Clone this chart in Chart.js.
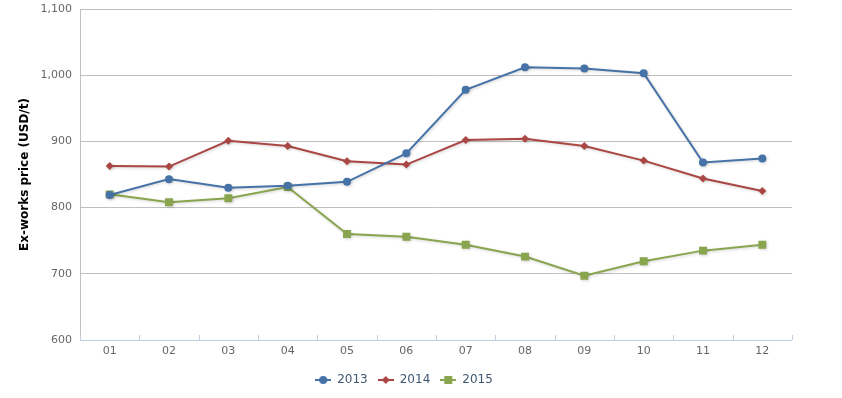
<!DOCTYPE html>
<html>
<head>
<meta charset="utf-8">
<script src="https://cdn.jsdelivr.net/npm/chart.js@4.4.0/dist/chart.umd.min.js"></script>
<style>
  html, body { margin: 0; padding: 0; background: #fff; }
  #wrap { width: 842px; height: 398px; }
</style>
</head>
<body>
<div id="wrap"><canvas id="priceChart" width="842" height="398"></canvas></div>
<script>
// Data
const months = ['01', '02', '03', '04', '05', '06', '07', '08', '09', '10', '11', '12'];
const prices2013 = [819, 843, 830, 833, 839, 882, 978, 1012, 1010, 1003, 868, 874];
const prices2014 = [863, 862, 901, 893, 870, 865, 902, 904, 893, 871, 844, 825];
const prices2015 = [820, 808, 814, 831, 760, 756, 744, 726, 697, 719, 735, 744];
const yTicks = [600, 700, 800, 900, 1000, 1100];

const seriesNames = ['2013', '2014', '2015'];
const seriesColors = ['#4572A7', '#AA4643', '#89A54E'];
const seriesMarkers = ['circle', 'rectRot', 'rect'];
const markerSizes = [4, 4, 5.6];

const baseFont = '"DejaVu Sans", Verdana, sans-serif';

// Legend symbol: short line with the marker in the middle
function makeLegendIcon(color, marker) {
    const c = document.createElement('canvas');
    c.width = 16;
    c.height = 10;
    const g = c.getContext('2d');
    g.strokeStyle = color;
    g.fillStyle = color;
    g.lineWidth = 2;
    g.beginPath();
    g.moveTo(0, 5);
    g.lineTo(16, 5);
    g.stroke();
    g.beginPath();
    if (marker === 'circle') {
        g.arc(8, 5, 4, 0, Math.PI * 2);
    } else if (marker === 'rectRot') {
        g.moveTo(8, 1); g.lineTo(12, 5); g.lineTo(8, 9); g.lineTo(4, 5); g.closePath();
    } else {
        g.rect(4, 1, 8, 8);
    }
    g.fill();
    return c;
}

// Soft shadow under the lines, like the original
const lineShadow = {
    id: 'lineShadow',
    beforeDatasetDraw(chart) {
        const ctx = chart.ctx;
        ctx.save();
        ctx.shadowColor = 'rgba(0, 0, 0, 0.18)';
        ctx.shadowBlur = 3;
        ctx.shadowOffsetX = 1;
        ctx.shadowOffsetY = 1;
    },
    afterDatasetDraw(chart) {
        chart.ctx.restore();
    }
};

// Category separators on the x axis, pointing up into the plot
const xTickMarks = {
    id: 'xTickMarks',
    afterDraw(chart) {
        const x = chart.scales.x;
        const ctx = chart.ctx;
        const half = (x.getPixelForValue(1) - x.getPixelForValue(0)) / 2;
        ctx.save();
        ctx.strokeStyle = '#C0D0E0';
        ctx.lineWidth = 1;
        ctx.beginPath();
        for (let i = 0; i <= months.length; i++) {
            const px = Math.round(x.getPixelForValue(i) - half) + 0.5;
            ctx.moveTo(px, x.top - 5);
            ctx.lineTo(px, x.top);
        }
        ctx.moveTo(x.left, x.top + 0.5);
        ctx.lineTo(x.right, x.top + 0.5);
        ctx.stroke();
        ctx.restore();
    }
};

const allSeries = [prices2013, prices2014, prices2015];
const datasets = allSeries.map((values, i) => ({
    label: seriesNames[i],
    data: values,
    borderColor: seriesColors[i],
    backgroundColor: seriesColors[i],
    borderWidth: 2,
    pointStyle: seriesMarkers[i],
    pointRadius: markerSizes[i],
    pointBorderWidth: 0,
    tension: 0,
    fill: false
}));

const legendIcons = seriesNames.map((n, i) => makeLegendIcon(seriesColors[i], seriesMarkers[i]));

new Chart(document.getElementById('priceChart').getContext('2d'), {
    type: 'line',
    data: {
        labels: months,
        datasets: datasets
    },
    options: {
        responsive: false,
        animation: false,
        layout: {
            padding: { left: 0, right: 34, top: 9, bottom: 2 }
        },
        scales: {
            x: {
                offset: true,
                grid: { display: false, drawTicks: false },
                border: { display: false },
                ticks: {
                    color: '#666',
                    font: { family: baseFont, size: 11 },
                    padding: 5,
                    maxRotation: 0
                },
                afterFit(scale) { scale.height = 24; }
            },
            y: {
                min: 600,
                max: 1100,
                afterBuildTicks(scale) {
                    scale.ticks = yTicks.map(v => ({ value: v }));
                },
                grid: { color: '#C0C0C0', drawTicks: false },
                border: { display: true, color: '#C0C0C0' },
                ticks: {
                    color: '#666',
                    font: { family: baseFont, size: 11 },
                    padding: 8,
                    callback: v => v.toLocaleString('en-US')
                },
                title: {
                    display: true,
                    text: 'Ex-works price (USD/t)',
                    color: '#000',
                    font: { family: baseFont, size: 12, weight: 'bold' },
                    padding: { top: 18, bottom: 10 }
                },
                afterFit(scale) {
                    scale.width = 80;
                    scale.paddingTop = 0;
                    scale.paddingBottom = 0;
                }
            },
            // empty right axis, only to keep the legend centred like the original
            yRight: {
                position: 'right',
                display: true,
                grid: { display: false, drawTicks: false },
                border: { display: false },
                ticks: { display: false },
                afterFit(scale) { scale.width = 16; }
            }
        },
        plugins: {
            tooltip: { enabled: false },
            legend: {
                position: 'bottom',
                labels: {
                    color: '#3E576F',
                    font: { family: baseFont, size: 12 },
                    usePointStyle: true,
                    pointStyleWidth: 16,
                    padding: 10,
                    generateLabels(chart) {
                        return chart.data.datasets.map((ds, i) => ({
                            text: ds.label,
                            pointStyle: legendIcons[i],
                            fillStyle: ds.borderColor,
                            strokeStyle: ds.borderColor,
                            lineWidth: 0,
                            fontColor: '#3E576F',
                            datasetIndex: i,
                            hidden: false
                        }));
                    }
                }
            }
        }
    },
    plugins: [lineShadow, xTickMarks]
});
</script>
</body>
</html>
